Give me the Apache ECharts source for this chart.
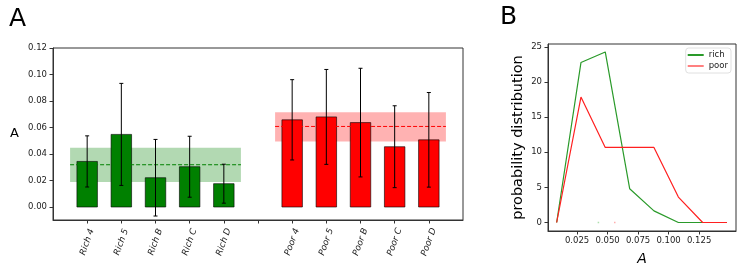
<!DOCTYPE html>
<html>
<head>
<meta charset="utf-8">
<script src="https://cdn.jsdelivr.net/npm/echarts@6/dist/echarts.min.js"></script>
<style>html,body{margin:0;padding:0;background:#fff}#c{width:747px;height:274px}</style>
</head>
<body>
<div id="c"></div>
<script>
// ---- Panel A data ----
const categories = ['Rich 4','Rich 5','Rich B','Rich C','Rich D','','Poor 4','Poor 5','Poor B','Poor C','Poor D'];
const richValues = [0.0344, 0.0548, 0.0221, 0.0304, 0.0176];
const richErr    = [0.0193, 0.0385, 0.0289, 0.0230, 0.0147];
const poorValues = [0.0658, 0.0680, 0.0637, 0.0455, 0.0507];
const poorErr    = [0.0303, 0.0358, 0.0410, 0.0309, 0.0357];
const richMean = 0.0319;
const richBand = [0.0188, 0.0447];
const poorMean = 0.0608;
const poorBand = [0.0495, 0.0716];
const yTicksA = [0, 0.02, 0.04, 0.06, 0.08, 0.10, 0.12];

// ---- Panel B data ----
const binCenters = [0.0083, 0.0282, 0.0481, 0.0681, 0.0880, 0.1080, 0.1279, 0.1478];
const richDist   = [0, 22.77, 24.28, 4.81, 1.66, 0, 0, 0];
const poorDist   = [0, 17.85, 10.69, 10.69, 10.69, 3.62, 0, 0];
const richMarker = [0.0425, 0];
const poorMarker = [0.0559, 0];
const xTicksB = [0.025, 0.050, 0.075, 0.100, 0.125];
const yTicksB = [0, 5, 10, 15, 20, 25];

const richIdx = [0,1,2,3,4];
const poorIdx = [6,7,8,9,10];
const tickIdx = [0,1,2,3,4,5,6,7,8,9,10];

const barData = [];
richIdx.forEach((x,i)=>barData.push({value:[x, richValues[i]], itemStyle:{color:'#008000'}}));
poorIdx.forEach((x,i)=>barData.push({value:[x, poorValues[i]], itemStyle:{color:'#ff0000'}}));
const errData = [];
richIdx.forEach((x,i)=>errData.push([x, richValues[i]-richErr[i], richValues[i]+richErr[i]]));
poorIdx.forEach((x,i)=>errData.push([x, poorValues[i]-poorErr[i], poorValues[i]+poorErr[i]]));
const bandData = [
  {value:[-0.5, 4.5, richBand[0], richBand[1]], itemStyle:{color:'rgba(0,128,0,0.3)'}},
  {value:[5.5, 10.5, poorBand[0], poorBand[1]], itemStyle:{color:'rgba(255,0,0,0.3)'}}
];

const font = 'DejaVu Sans';
const chart = echarts.init(document.getElementById('c'), null, {renderer:'canvas'});
chart.setOption({
  animation: false,
  backgroundColor: '#fff',
  title: [
    {text:'A', left: 9, top: 7, padding:0, textStyle:{fontFamily:font, fontSize:25, fontWeight:'normal', color:'#000'}},
    {text:'B', left: 500, top: 5, padding:0, textStyle:{fontFamily:font, fontSize:25, fontWeight:'normal', color:'#000'}}
  ],
  legend: {
    data: [
      {name:'rich', itemStyle:{color:'#2a9a2a'}},
      {name:'poor', itemStyle:{color:'rgba(255,60,60,0.65)'}}
    ],
    orient: 'vertical', right: 16, top: 48,
    icon: 'rect', itemWidth: 16, itemHeight: 2, itemGap: 1,
    padding: [2,3,2,2],
    borderColor: '#e0e0e0', borderWidth: 1, borderRadius: 3,
    textStyle: {fontFamily:font, fontSize:8.5, lineHeight:10, color:'#222'}
  },
  grid: [
    {left: 53, right: 284, top: 48, bottom: 54, show: true, borderColor:'#333', borderWidth:1, backgroundColor:'transparent'},
    {left: 548, right: 11, top: 44, bottom: 43, show: true, borderColor:'#333', borderWidth:1, backgroundColor:'transparent'}
  ],
  xAxis: [
    {type:'value', gridIndex:0, min:-1, max:11,
     axisLine:{show:true, onZero:false, lineStyle:{color:'#333'}},
     splitLine:{show:false},
     axisTick:{show:true, customValues: tickIdx, length:3.5, lineStyle:{color:'#333'}},
     axisLabel:{customValues: tickIdx, formatter: v => categories[Math.round(v)] || '',
       rotate:70, align:'center', verticalAlign:'middle', margin:22,
       fontFamily:font, fontSize:8.8, fontStyle:'italic', color:'#222'}},
    {type:'value', gridIndex:1, min:0.0012, max:0.1552,
     name:'A', nameLocation:'middle', nameGap:21,
     nameTextStyle:{fontFamily:font, fontSize:14, fontStyle:'italic', color:'#000'},
     axisLine:{show:true, onZero:false, lineStyle:{color:'#333'}},
     splitLine:{show:false},
     axisTick:{show:true, customValues: xTicksB, length:3.5, lineStyle:{color:'#333'}},
     axisLabel:{customValues: xTicksB, formatter: v => v.toFixed(3), margin:5,
       fontFamily:font, fontSize:8.5, color:'#222'}}
  ],
  yAxis: [
    {type:'value', gridIndex:0, min:-0.0098, max:0.12,
     name:'A', nameLocation:'middle', nameRotate:0, nameGap:34,
     nameTextStyle:{fontFamily:font, fontSize:13, color:'#000'},
     axisLine:{show:true, onZero:false, lineStyle:{color:'#333'}},
     splitLine:{show:false},
     axisTick:{show:true, customValues: yTicksA, length:3.5, lineStyle:{color:'#333'}},
     axisLabel:{customValues: yTicksA, formatter: v => v.toFixed(2), margin:6,
       fontFamily:font, fontSize:8.5, color:'#222'}},
    {type:'value', gridIndex:1, min:-1.21, max:25.41,
     name:'probability distribution', nameLocation:'middle', nameRotate:90, nameGap:22,
     nameTextStyle:{fontFamily:font, fontSize:14.5, color:'#000'},
     axisLine:{show:true, onZero:false, lineStyle:{color:'#333'}},
     splitLine:{show:false},
     axisTick:{show:true, customValues: yTicksB, length:3.5, lineStyle:{color:'#333'}},
     axisLabel:{customValues: yTicksB, margin:6, fontFamily:font, fontSize:8.5, color:'#222'}}
  ],
  series: [
    {type:'custom', xAxisIndex:0, yAxisIndex:0, z:1, data: bandData,
     renderItem: (params, api) => {
       const p0 = api.coord([api.value(0), api.value(3)]);
       const p1 = api.coord([api.value(1), api.value(2)]);
       return {type:'rect', shape:{x:p0[0], y:p0[1], width:p1[0]-p0[0], height:p1[1]-p0[1]},
         style:{fill: api.visual('color')}};
     }},
    {type:'custom', xAxisIndex:0, yAxisIndex:0, z:2, data: barData,
     renderItem: (params, api) => {
       const x = api.value(0), y = api.value(1);
       const p0 = api.coord([x-0.3, y]);
       const p1 = api.coord([x+0.3, 0]);
       return {type:'rect', shape:{x:p0[0], y:p0[1], width:p1[0]-p0[0], height:p1[1]-p0[1]},
         style:{fill: api.visual('color'), stroke:'rgba(0,0,0,0.6)', lineWidth:1}};
     }},
    {type:'line', xAxisIndex:0, yAxisIndex:0, z:3, symbol:'none', silent:true,
     data: [[-0.5, richMean],[4.5, richMean]],
     lineStyle:{color:'#008000', width:1, type:[4,2]}},
    {type:'line', xAxisIndex:0, yAxisIndex:0, z:3, symbol:'none', silent:true,
     data: [[5.5, poorMean],[10.5, poorMean]],
     lineStyle:{color:'#ff0000', width:1, type:[4,2]}},
    {type:'custom', xAxisIndex:0, yAxisIndex:0, z:4, data: errData,
     renderItem: (params, api) => {
       const x = api.value(0);
       const lo = api.coord([x, api.value(1)]);
       const hi = api.coord([x, api.value(2)]);
       const c = 2;
       const st = {stroke:'#000', lineWidth:1};
       return {type:'group', children:[
         {type:'line', shape:{x1:lo[0], y1:lo[1], x2:hi[0], y2:hi[1]}, style:st},
         {type:'line', shape:{x1:lo[0]-c, y1:lo[1], x2:lo[0]+c, y2:lo[1]}, style:st},
         {type:'line', shape:{x1:hi[0]-c, y1:hi[1], x2:hi[0]+c, y2:hi[1]}, style:st}
       ]};
     }},
    {name:'rich', type:'line', xAxisIndex:1, yAxisIndex:1, symbol:'none', z:3,
     data: binCenters.map((x,i)=>[x, richDist[i]]),
     lineStyle:{color:'#2a9a2a', width:1.2}, itemStyle:{color:'#2a9a2a'}},
    {name:'poor', type:'line', xAxisIndex:1, yAxisIndex:1, symbol:'none', z:4,
     data: binCenters.map((x,i)=>[x, poorDist[i]]),
     lineStyle:{color:'#ff2020', width:1.2}, itemStyle:{color:'#ff2020'}},
    {type:'scatter', xAxisIndex:1, yAxisIndex:1, symbol:'rect', symbolSize:[1.5,1.5], silent:true,
     data:[{value:richMarker, itemStyle:{color:'rgba(0,160,0,0.4)'}},{value:poorMarker, itemStyle:{color:'rgba(255,0,0,0.4)'}}]}
  ]
});
</script>
</body>
</html>
